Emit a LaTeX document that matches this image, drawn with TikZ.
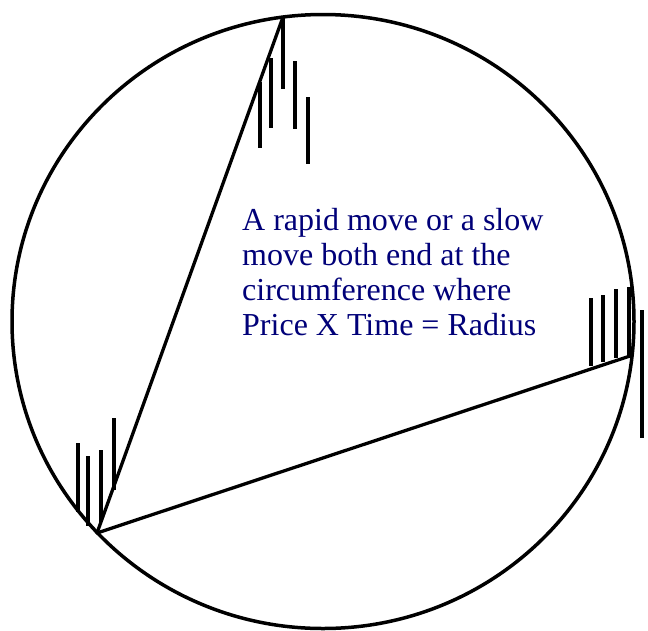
\documentclass[tikz,border=0pt]{standalone}
\usepackage{fontspec}
\setmainfont{Liberation Serif}
\definecolor{navytext}{RGB}{0,0,120}
\tikzset{
  outline/.style={line width=3.5pt, black},
  chord/.style={line width=3.3pt, black, line cap=round},
  bar/.style={line width=4pt, black},
  caption/.style={text=navytext, align=left, inner sep=0pt, anchor=base west,
    font=\fontsize{32}{35}\selectfont}
}
\begin{document}
\begin{tikzpicture}[x=1pt,y=-1pt]
\useasboundingbox (0,0) rectangle (648,630);
\coordinate (c) at (323,321.5);
\draw[outline] (c) ellipse [x radius=311, y radius=307];
\coordinate (low) at (97,533);
\coordinate (top) at (283,17);
\coordinate (right) at (630,356);
\draw[chord] (low) -- (top);
\draw[chord] (low) -- (right);
% bars near top vertex
\draw[bar] (260,82) -- (260,148);
\draw[bar] (271,58) -- (271,128);
\draw[bar] (283,17) -- (283,89);
\draw[bar] (295,61) -- (295,129);
\draw[bar] (308,97) -- (308,164);
% bars near lower-left vertex
\draw[bar] (78,443) -- (78,512);
\draw[bar] (88,456) -- (88,526);
\draw[bar] (101,450) -- (101,522);
\draw[bar] (114,418) -- (114,490);
% bars near right vertex
\draw[bar] (591,298) -- (591,366);
\draw[bar] (603,295) -- (603,362);
\draw[bar] (616,289) -- (616,358);
\draw[bar] (629,287) -- (629,356);
\draw[bar] (642,310) -- (642,438);
\node[caption] (txt) at (242,335) {A rapid move or a slow\\move both end at the\\circumference where\\Price X Time = Radius};
\end{tikzpicture}
\end{document}
